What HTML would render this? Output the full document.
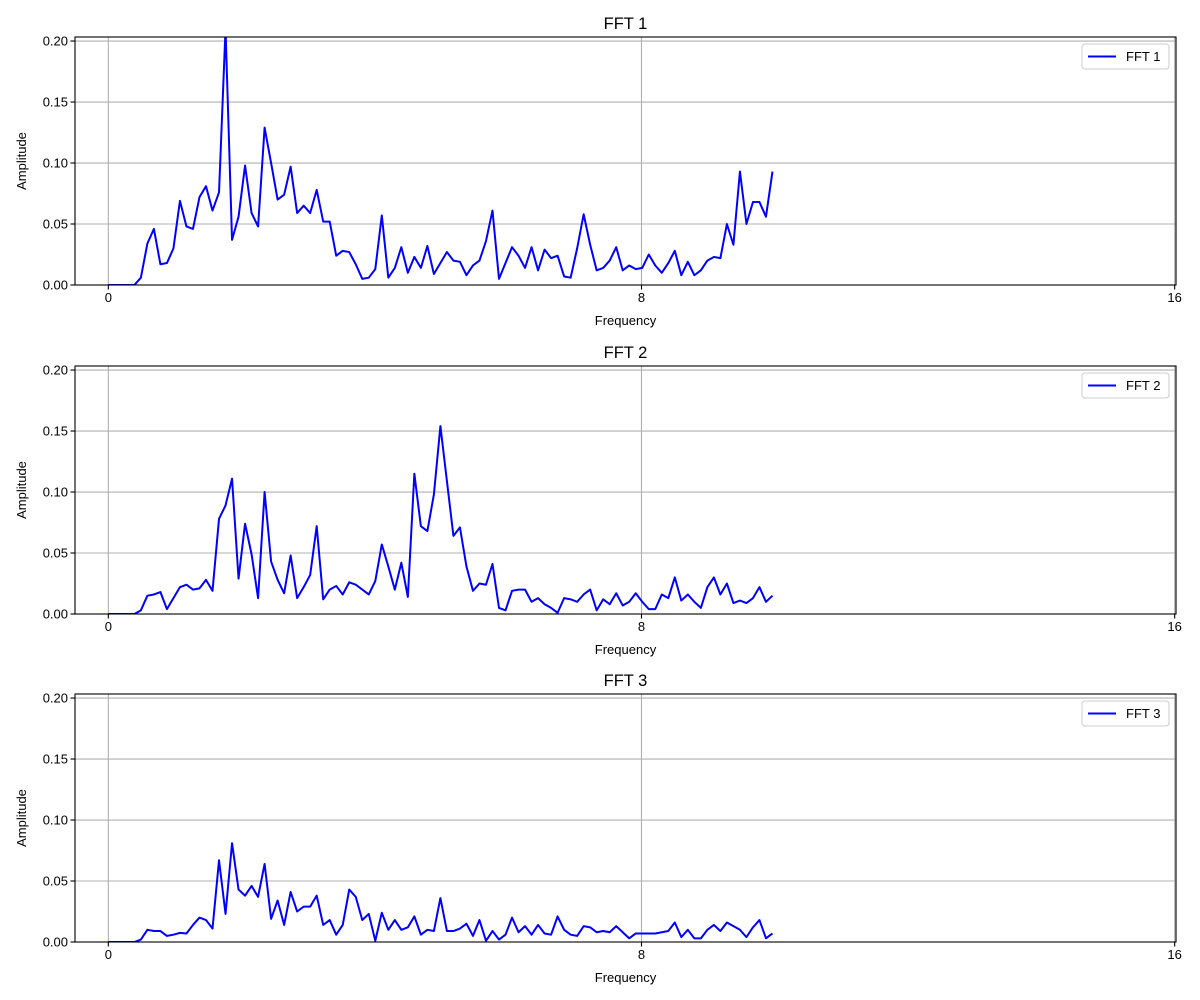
<!DOCTYPE html>
<html><head><meta charset="utf-8"><style>
html,body{margin:0;padding:0;background:#fff}
svg{display:block;font-family:"Liberation Sans","DejaVu Sans",sans-serif}
</style></head><body>
<svg id="chart" width="1200" height="1000" viewBox="0 0 1200 1000" xmlns="http://www.w3.org/2000/svg"></svg>
<script>
const fftStep = 0.0977;
const fft1Values = [0,0,0,0,0,0.006,0.034,0.046,0.017,0.018,0.030,0.069,0.048,0.046,0.072,0.081,0.061,0.076,0.210,0.037,0.056,0.098,0.059,0.048,0.129,0.100,0.070,0.074,0.097,0.059,0.065,0.059,0.078,0.052,0.052,0.024,0.028,0.027,0.017,0.005,0.006,0.013,0.057,0.006,0.014,0.031,0.010,0.023,0.014,0.032,0.009,0.018,0.027,0.020,0.019,0.008,0.016,0.020,0.036,0.061,0.005,0.018,0.031,0.024,0.014,0.031,0.012,0.029,0.022,0.024,0.007,0.006,0.030,0.058,0.033,0.012,0.014,0.020,0.031,0.012,0.016,0.013,0.014,0.025,0.016,0.010,0.018,0.028,0.008,0.019,0.008,0.012,0.020,0.023,0.022,0.050,0.033,0.093,0.050,0.068,0.068,0.056,0.093];
const fft2Values = [0,0,0,0,0,0.003,0.015,0.016,0.018,0.004,0.013,0.022,0.024,0.020,0.021,0.028,0.019,0.078,0.089,0.111,0.029,0.074,0.049,0.013,0.100,0.043,0.028,0.017,0.048,0.013,0.022,0.032,0.072,0.012,0.020,0.023,0.016,0.026,0.024,0.020,0.016,0.027,0.057,0.039,0.020,0.042,0.014,0.115,0.072,0.068,0.098,0.154,0.109,0.064,0.071,0.039,0.019,0.025,0.024,0.041,0.005,0.003,0.019,0.020,0.020,0.010,0.013,0.008,0.005,0.001,0.013,0.012,0.010,0.016,0.020,0.003,0.012,0.008,0.017,0.007,0.010,0.017,0.010,0.004,0.004,0.016,0.013,0.030,0.011,0.016,0.010,0.005,0.022,0.030,0.016,0.025,0.009,0.011,0.009,0.013,0.022,0.010,0.015];
const fft3Values = [0,0,0,0,0,0.002,0.010,0.009,0.009,0.005,0.006,0.0075,0.007,0.014,0.020,0.018,0.011,0.067,0.023,0.081,0.043,0.038,0.046,0.037,0.064,0.019,0.034,0.014,0.041,0.025,0.029,0.029,0.038,0.014,0.018,0.006,0.014,0.043,0.037,0.018,0.023,0.001,0.024,0.010,0.018,0.010,0.012,0.021,0.006,0.010,0.009,0.036,0.009,0.009,0.011,0.015,0.005,0.018,0.001,0.009,0.002,0.006,0.020,0.008,0.013,0.006,0.014,0.007,0.006,0.021,0.010,0.006,0.005,0.013,0.012,0.008,0.009,0.008,0.013,0.008,0.003,0.007,0.007,0.007,0.007,0.008,0.009,0.016,0.004,0.010,0.003,0.003,0.010,0.014,0.009,0.016,0.013,0.010,0.004,0.012,0.018,0.003,0.007];
const seriesNames = ["FFT 1","FFT 2","FFT 3"];
const xTicks = [0,8,16];
const yTicks = [0,0.05,0.10,0.15,0.20];
const yTickLabels = ["0.00","0.05","0.10","0.15","0.20"];

const NS = "http://www.w3.org/2000/svg";
const svg = document.getElementById('chart');
function mk(tag, attrs, parent){const e=document.createElementNS(NS,tag);for(const k in attrs)e.setAttribute(k,attrs[k]);(parent||svg).appendChild(e);return e;}

const allSeries = [fft1Values, fft2Values, fft3Values];
const L=75, R=1176, tops=[37,366,694], H=248;
const xMin=-0.5, xMax=16.02, yMin=0, yMax=0.2033;
allSeries.forEach((vals, si) => {
  const T=tops[si], B=T+H;
  const xs = v => L + (v - xMin) / (xMax - xMin) * (R - L);
  const ys = v => B - (v - yMin) / (yMax - yMin) * H;
  const g = mk('g', {});
  
  
  const cp = mk('clipPath', {id:'cp'+si}, g);
  mk('rect', {x:L, y:T, width:R-L, height:H}, cp);
  xTicks.forEach(t => {
    const l = mk('line', {x1:xs(t), x2:xs(t), y1:T, y2:B, stroke:'#b0b0b0', 'stroke-width':1.1}, g);
    
    
  });
  yTicks.forEach(t => {
    const l = mk('line', {x1:L, x2:R, y1:ys(t), y2:ys(t), stroke:'#b0b0b0', 'stroke-width':1.1}, g);
    
    
  });
  const pts = vals.map((v,i) => xs(i*fftStep).toFixed(2) + ',' + ys(v).toFixed(2)).join(' ');
  const pl = mk('polyline', {points:pts, fill:'none', stroke:'#0000ff', 'stroke-width':2, 'clip-path':'url(#cp'+si+')', 'stroke-linejoin':'round'}, g);
  
  
  const fr = mk('rect', {x:L, y:T, width:R-L, height:H, fill:'none', stroke:'#000', 'stroke-width':1.1}, g);
  
  
  xTicks.forEach(t => {
    mk('line', {x1:xs(t), x2:xs(t), y1:B, y2:B+4.5, stroke:'#000', 'stroke-width':1.1}, g);
    const tx = mk('text', {x:xs(t), y:B+17, 'font-size':13, 'text-anchor':'middle', fill:'#000'}, g);
    tx.textContent = String(t);
    
    
  });
  yTicks.forEach((t, k) => {
    mk('line', {x1:L-4.5, x2:L, y1:ys(t), y2:ys(t), stroke:'#000', 'stroke-width':1.1}, g);
    const tx = mk('text', {x:L-7, y:ys(t)+4.5, 'font-size':13, 'text-anchor':'end', fill:'#000'}, g);
    tx.textContent = yTickLabels[k];
    
    
  });
  const xt = mk('text', {x:(L+R)/2, y:B+40, 'font-size':13, 'text-anchor':'middle'}, g);
  xt.textContent = 'Frequency';
  
  
  const yt = mk('text', {x:0, y:0, 'font-size':13, 'text-anchor':'middle', transform:'translate(26,'+((T+B)/2)+') rotate(-90)'}, g);
  yt.textContent = 'Amplitude';
  
  
  const tt = mk('text', {x:(L+R)/2, y:T-8, 'font-size':16.5, 'text-anchor':'middle'}, g);
  tt.textContent = seriesNames[si];
  
  
  const lg = mk('g', {}, g);
  
  
  mk('rect', {x:1082, y:T+7, width:87, height:25, rx:3, fill:'#fff', 'fill-opacity':0.8, stroke:'#cccccc', 'stroke-width':1}, lg);
  mk('line', {x1:1088, x2:1116, y1:T+19.5, y2:T+19.5, stroke:'#0000ff', 'stroke-width':2}, lg);
  const lt = mk('text', {x:1126, y:T+24, 'font-size':13}, lg);
  lt.textContent = seriesNames[si];
  
  
});
</script>
</body></html>
